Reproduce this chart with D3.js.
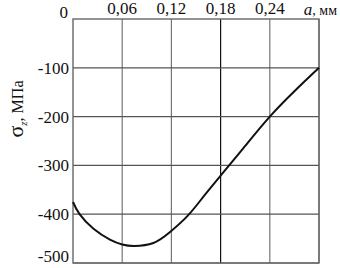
<!DOCTYPE html>
<html>
<head>
<meta charset="utf-8">
<script src="https://cdn.jsdelivr.net/npm/d3@7"></script>
<style>
  body { margin: 0; background: #fff; }
  svg text { font-family: "Liberation Serif", "DejaVu Serif", serif; fill: #111; }
</style>
</head>
<body>
<div id="chart"></div>
<script>
// depth a, mm and stress sigma_z, MPa
var depth = [0, 0.008, 0.025, 0.045, 0.06, 0.075, 0.098, 0.118, 0.14, 0.16, 0.18, 0.21, 0.24, 0.27, 0.30];
var stress = [-375, -400, -430, -452, -462, -465, -459, -437, -403, -362, -321, -260, -200, -148, -100];

var xTicks = [0.06, 0.12, 0.18, 0.24, 0.30];
var xTickLabels = ["0,06", "0,12", "0,18", "0,24", ""];
var yTicks = [-100, -200, -300, -400, -500];

var margin = {top: 19, right: 21, bottom: 5, left: 73},
    width = 340 - margin.left - margin.right,
    height = 268 - margin.top - margin.bottom;

var svg = d3.select("#chart").append("svg")
    .attr("width", 340)
    .attr("height", 268);

var g = svg.append("g")
    .attr("transform", "translate(" + margin.left + "," + margin.top + ")");

var x = d3.scaleLinear().domain([0, 0.30]).range([0, width]);
var y = d3.scaleLinear().domain([-500, 0]).range([height, 0]);

// grid lines
g.selectAll(".vgrid")
    .data(xTicks)
  .enter().append("line")
    .attr("x1", function(d) { return x(d); })
    .attr("x2", function(d) { return x(d); })
    .attr("y1", 0)
    .attr("y2", height)
    .attr("stroke", function(d) { return d === 0.18 ? "#111" : "#777"; })
    .attr("stroke-width", 1.2);

g.selectAll(".hgrid")
    .data(yTicks)
  .enter().append("line")
    .attr("x1", 0)
    .attr("x2", width)
    .attr("y1", function(d) { return y(d); })
    .attr("y2", function(d) { return y(d); })
    .attr("stroke", "#555")
    .attr("stroke-width", 1.2);

// frame
g.append("rect")
    .attr("width", width)
    .attr("height", height)
    .attr("fill", "none")
    .attr("stroke", "#666")
    .attr("stroke-width", 1.4);

// tick labels
g.selectAll(".xlab")
    .data(xTicks)
  .enter().append("text")
    .attr("x", function(d) { return x(d); })
    .attr("y", -5)
    .attr("text-anchor", "middle")
    .style("font-size", "17px")
    .text(function(d, i) { return xTickLabels[i]; });

g.append("text")
    .attr("x", -5)
    .attr("y", -1)
    .attr("text-anchor", "end")
    .style("font-size", "17px")
    .text("0");

g.selectAll(".ylab")
    .data(yTicks)
  .enter().append("text")
    .attr("x", -4)
    .attr("y", function(d) { return d === -500 ? y(d) - 7 : y(d); })
    .attr("dy", "0.35em")
    .attr("text-anchor", "end")
    .style("font-size", "17px")
    .text(function(d) { return d; });

// axis titles
var xt = svg.append("text")
    .attr("x", 337)
    .attr("y", 15)
    .attr("text-anchor", "end")
    .style("font-size", "17px");
xt.append("tspan").style("font-style", "italic").text("a");
xt.append("tspan").style("font-size", "14px").text(", мм");

var yt = svg.append("text")
    .attr("transform", "translate(23,109) rotate(-90)")
    .attr("text-anchor", "middle")
    .style("font-size", "16px");
yt.append("tspan").style("font-size", "22px").text("σ");
yt.append("tspan").attr("dy", 4).style("font-size", "11px").style("font-style", "italic").text("z");
yt.append("tspan").attr("dy", -4).text(", МПа");

// curve
var line = d3.line()
    .x(function(d, i) { return x(depth[i]); })
    .y(function(d) { return y(d); })
    .curve(d3.curveNatural);

g.append("path")
    .datum(stress)
    .attr("d", line)
    .attr("fill", "none")
    .attr("stroke", "#111")
    .attr("stroke-width", 2);
</script>
</body>
</html>
